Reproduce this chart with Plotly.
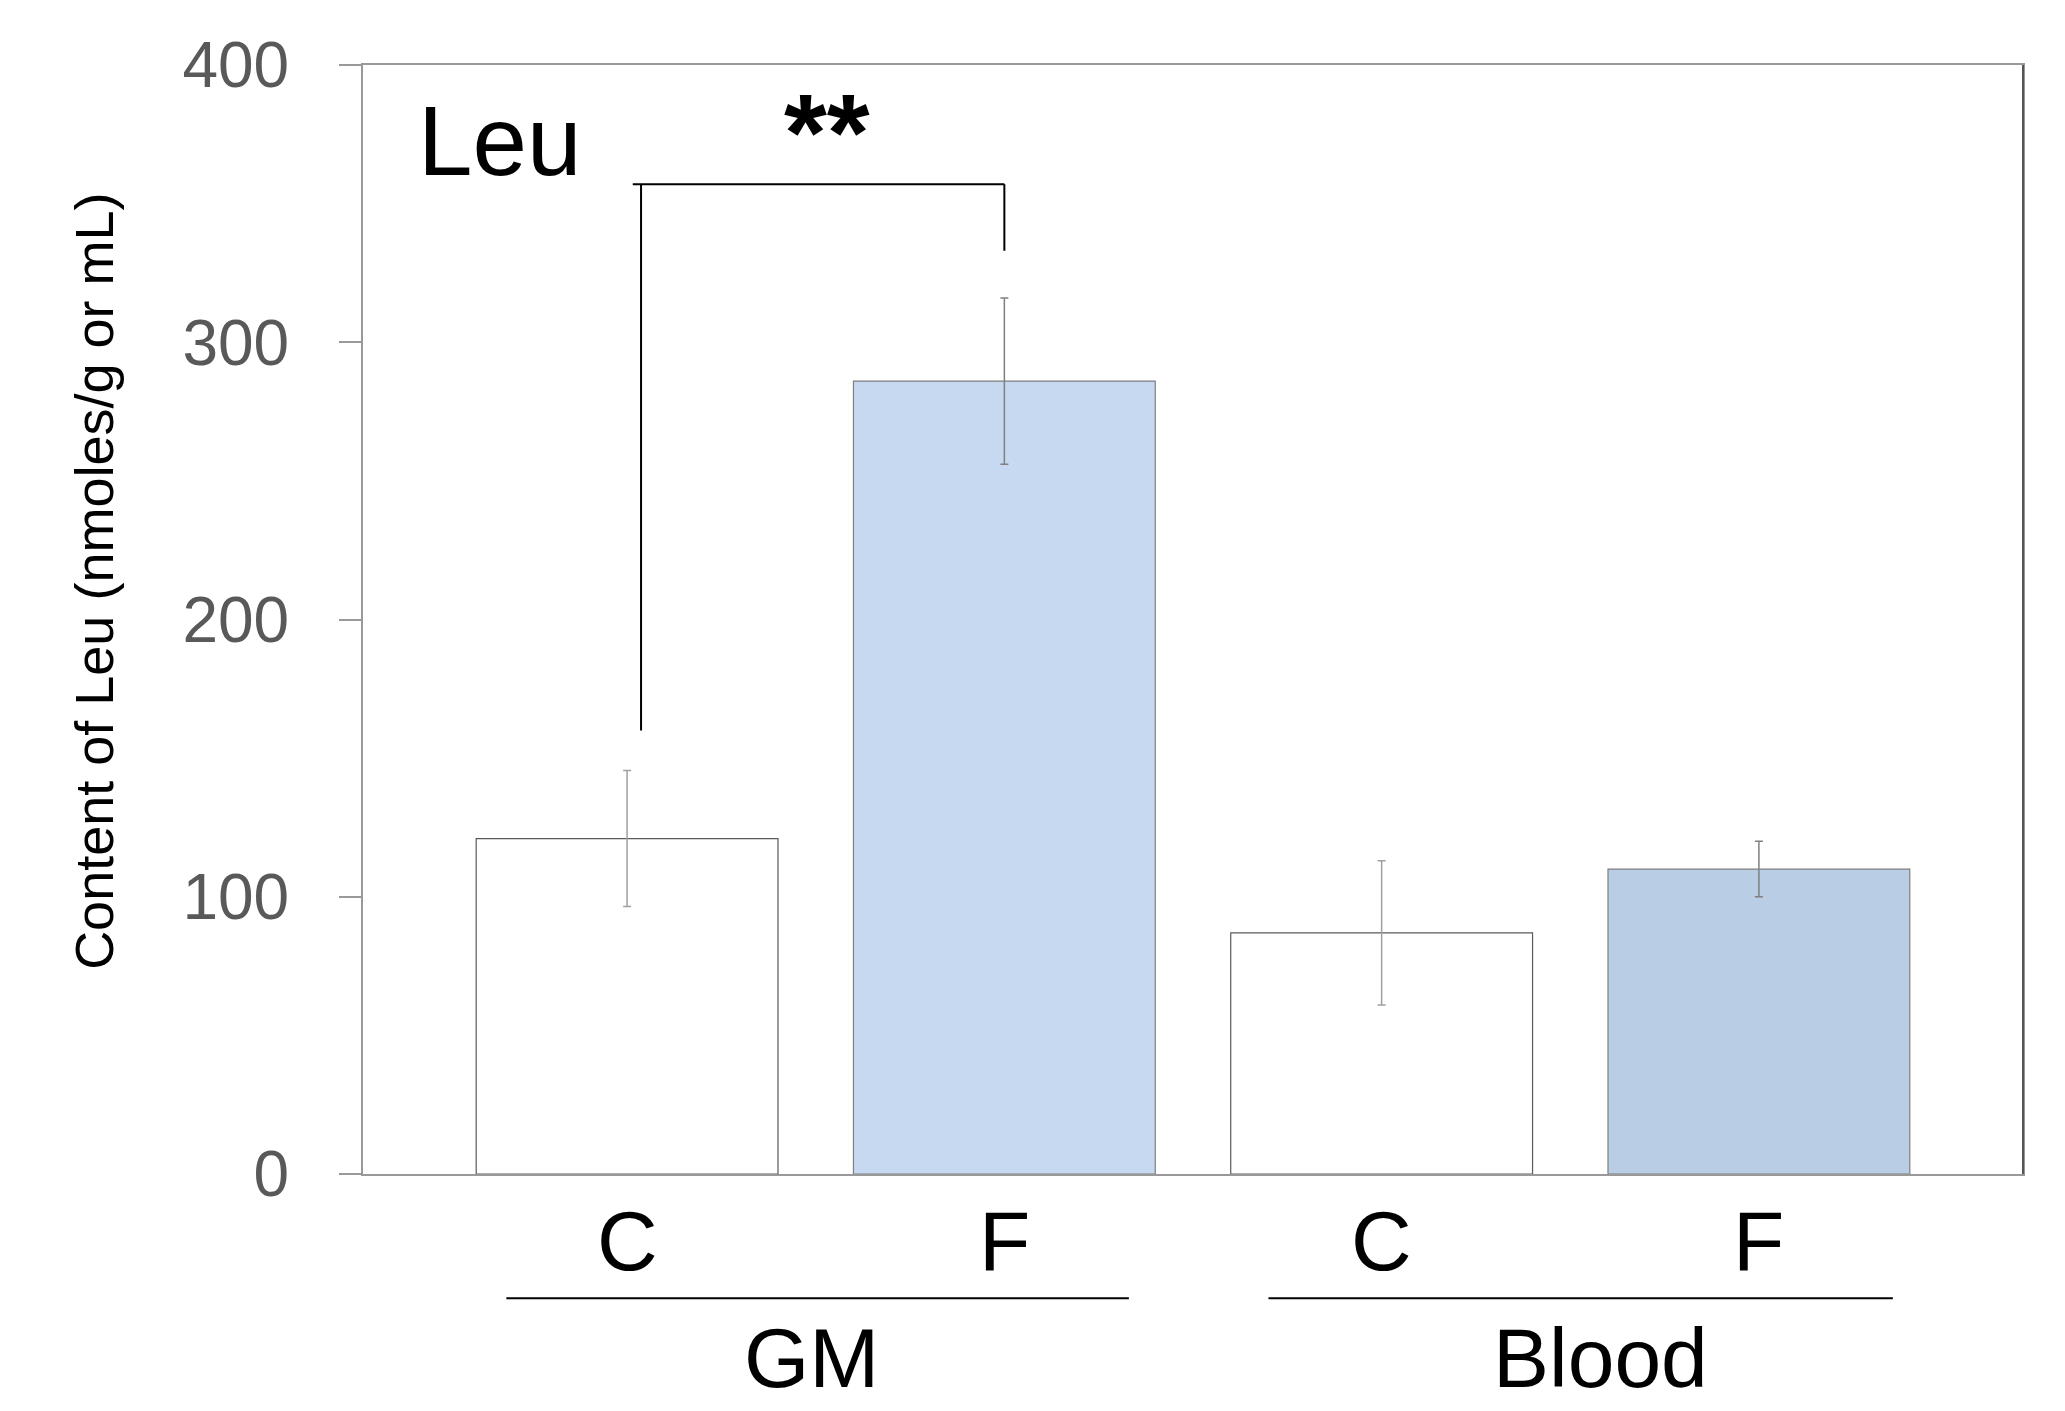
import plotly.graph_objects as go

# ---- data ----
groups = ["GM", "Blood"]
conditions = ["C", "F", "C", "F"]
x_index = [0, 1, 2, 3]
c_values = [121, 87]
c_errors = [24.5, 26]
f_values = [286, 110]
f_errors = [30, 10]
f_colors = ["#C6D9F0", "#B9CDE5"]
y_ticks = [0, 100, 200, 300, 400]
y_title = "Content of Leu (nmoles/g or mL)"

FONT = "Liberation Sans, Arial, sans-serif"

fig = go.Figure()
fig.add_trace(go.Bar(
    x=[x_index[0], x_index[2]], y=c_values, width=0.8,
    marker=dict(color="white", line=dict(color="#5A5A5A", width=1.2)),
    error_y=dict(type="data", array=c_errors, color="#A0A0A0", thickness=1.5, width=4),
    showlegend=False,
))
fig.add_trace(go.Bar(
    x=[x_index[1], x_index[3]], y=f_values, width=0.8,
    marker=dict(color=f_colors, line=dict(color="#7F7F7F", width=1.2)),
    error_y=dict(type="data", array=f_errors, color="#808080", thickness=1.5, width=4),
    showlegend=False,
))

fig.update_layout(
    width=2065, height=1411,
    paper_bgcolor="white", plot_bgcolor="white",
    margin=dict(l=355, r=50, t=57, b=245),
    barmode="overlay",
    font=dict(family=FONT, color="black"),
)
fig.update_xaxes(
    range=[-0.7, 3.7], tickmode="array", tickvals=x_index, ticktext=["", "", "", ""],
    ticks="", showgrid=False,
    showline=True, linecolor="#999999", linewidth=2, mirror=True,
    zeroline=False,
)
fig.update_yaxes(
    range=[0, 400], tickmode="array", tickvals=y_ticks,
    tickfont=dict(size=64, color="#595959"), ticks="outside", ticklen=22,
    tickcolor="#999999", tickwidth=2, showgrid=False,
    showline=True, linecolor="#999999", linewidth=2, mirror=True,
    zeroline=False, ticklabelstandoff=37,
)

# darker right frame edge
fig.add_shape(type="line", xref="paper", yref="paper", x0=1, x1=1, y0=0, y1=1,
              line=dict(color="#555555", width=2))

# condition labels under bars
for xi, lab in zip(x_index, conditions):
    fig.add_annotation(text=lab, xref="x", yref="paper", x=xi, y=-0.06, showarrow=False,
                       font=dict(size=84, color="black"), xanchor="center", yanchor="middle")

# y-axis title
fig.add_annotation(text=y_title, xref="paper", yref="paper", x=-0.162, y=0.534,
                   textangle=-90, showarrow=False, font=dict(size=54, color="black"),
                   xanchor="center", yanchor="middle")

# panel label
fig.add_annotation(text="Leu", xref="x", yref="y", x=-0.56, y=352, xanchor="left",
                   yanchor="bottom", showarrow=False, font=dict(size=98, color="black"))

# significance bracket
line_k = dict(color="black", width=2)
fig.add_shape(type="line", xref="x", yref="y", x0=0.015, x1=1.0, y0=357, y1=357, line=line_k)
fig.add_shape(type="line", xref="x", yref="y", x0=0.037, x1=0.037, y0=357, y1=160, line=line_k)
fig.add_shape(type="line", xref="x", yref="y", x0=1.0, x1=1.0, y0=357, y1=333, line=line_k)
fig.add_annotation(text="<b>**</b>", xref="x", yref="y", x=0.53, y=376, showarrow=False,
                   font=dict(size=110, color="black"), xanchor="center", yanchor="middle")

# group lines and labels
group_line_y = -0.112
fig.add_shape(type="line", xref="x", yref="paper", x0=x_index[0] - 0.32, x1=x_index[1] + 0.33,
              y0=group_line_y, y1=group_line_y, line=line_k)
fig.add_shape(type="line", xref="x", yref="paper", x0=x_index[2] - 0.30, x1=x_index[3] + 0.355,
              y0=group_line_y, y1=group_line_y, line=line_k)
fig.add_annotation(text=groups[0], xref="x", yref="paper", x=0.49, y=-0.166, showarrow=False,
                   font=dict(size=84, color="black"), xanchor="center", yanchor="middle")
fig.add_annotation(text=groups[1], xref="x", yref="paper", x=2.58, y=-0.166, showarrow=False,
                   font=dict(size=84, color="black"), xanchor="center", yanchor="middle")

fig.write_html("out.html")
